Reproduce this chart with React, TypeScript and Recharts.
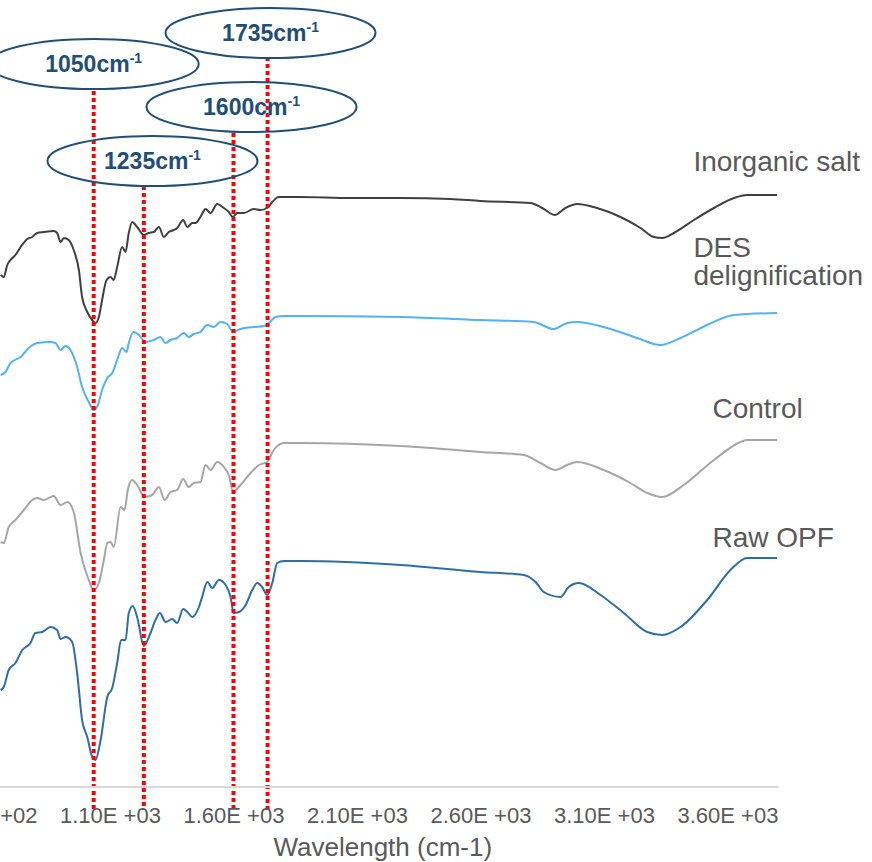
import React from 'react';
import { LineChart, Line, XAxis, YAxis, ReferenceLine, ReferenceDot } from 'recharts';

const FONT = 'Arial, "Liberation Sans", sans-serif';

// X axis ticks (wavenumber, cm-1)
const tickValues = [600, 1100, 1600, 2100, 2600, 3100, 3600];
const tickLabels = ['6.00E +02', '1.10E +03', '1.60E +03', '2.10E +03', '2.60E +03', '3.10E +03', '3.60E +03'];

// Inorganic salt
const inorganicX = [655, 668, 682, 695, 715, 736, 763, 783, 803, 830, 870, 884, 898, 911, 931, 951, 972, 985, 1006, 1026, 1039, 1053, 1066, 1084, 1100, 1113, 1127, 1147, 1161, 1174, 1188, 1208, 1235, 1255, 1275, 1296, 1316, 1336, 1356, 1370, 1394, 1411, 1431, 1444, 1464, 1485, 1505, 1532, 1559, 1579, 1595, 1613, 1640, 1680, 1707, 1734, 1755, 1781, 1869, 2072, 2274, 2477, 2598, 2800, 2848, 2898, 2942, 2989, 3070, 3165, 3246, 3300, 3334, 3381, 3462, 3543, 3624, 3678, 3799];
const inorganicY = [51.2, 51.0, 52.2, 52.7, 53.2, 54.0, 54.8, 55.0, 55.4, 55.5, 55.6, 55.4, 54.5, 54.9, 54.7, 53.7, 51.7, 49.0, 47.5, 46.7, 46.4, 47.0, 48.7, 50.7, 51.0, 50.7, 52.0, 54.0, 53.5, 55.4, 56.5, 56.0, 55.2, 55.4, 55.5, 56.0, 55.0, 55.5, 55.7, 55.9, 56.7, 56.0, 56.4, 56.4, 57.0, 57.8, 57.4, 58.3, 57.9, 57.5, 57.0, 57.4, 57.4, 57.8, 57.7, 57.9, 58.5, 59.0, 59.0, 58.9, 58.9, 58.8, 58.6, 58.4, 57.9, 57.2, 57.9, 58.3, 57.9, 57.0, 55.9, 55.0, 54.9, 55.4, 56.7, 57.9, 58.9, 59.2, 59.2];

// DES delignification
const desX = [655, 675, 695, 736, 769, 803, 857, 877, 898, 918, 938, 965, 985, 1012, 1032, 1049, 1066, 1087, 1107, 1127, 1147, 1165, 1174, 1194, 1215, 1242, 1275, 1302, 1323, 1343, 1370, 1397, 1417, 1437, 1464, 1492, 1518, 1545, 1573, 1595, 1626, 1680, 1721, 1741, 1768, 1802, 1869, 2274, 2598, 2813, 2894, 2949, 2989, 3111, 3232, 3327, 3408, 3516, 3624, 3799];
const desY = [41.2, 41.5, 42.4, 43.0, 43.9, 44.4, 44.5, 44.4, 43.7, 44.1, 43.7, 42.0, 40.0, 38.5, 37.7, 38.2, 39.7, 40.9, 41.4, 42.7, 43.9, 43.5, 44.4, 45.5, 45.2, 44.5, 44.7, 45.0, 44.4, 44.7, 44.9, 45.4, 45.0, 45.3, 45.5, 46.2, 46.0, 46.5, 46.3, 45.5, 45.8, 46.0, 46.1, 46.4, 47.0, 47.1, 47.1, 47.0, 46.7, 46.5, 45.8, 46.4, 46.5, 45.9, 44.9, 44.2, 44.9, 46.2, 47.2, 47.4];

// Control
const controlX = [655, 668, 688, 715, 749, 783, 803, 830, 870, 898, 925, 951, 979, 1012, 1032, 1053, 1073, 1087, 1100, 1113, 1141, 1157, 1170, 1188, 1208, 1238, 1269, 1296, 1319, 1343, 1370, 1394, 1417, 1437, 1464, 1485, 1505, 1532, 1559, 1579, 1597, 1626, 1667, 1701, 1734, 1761, 1802, 1869, 2274, 2598, 2773, 2841, 2902, 2949, 2989, 3097, 3205, 3273, 3334, 3421, 3543, 3651, 3678, 3799];
const controlY = [24.5, 24.4, 26.0, 26.7, 27.7, 28.7, 28.9, 28.7, 29.1, 28.2, 28.5, 27.5, 23.4, 20.7, 19.7, 20.4, 22.7, 24.4, 24.5, 24.0, 28.0, 27.7, 29.7, 30.7, 30.2, 29.0, 29.2, 30.0, 28.7, 29.5, 29.7, 30.8, 30.0, 30.4, 30.5, 32.2, 31.7, 32.5, 32.0, 31.2, 29.5, 30.2, 31.4, 32.2, 32.5, 33.7, 34.4, 34.4, 34.1, 33.5, 33.2, 32.4, 31.7, 32.2, 32.5, 31.7, 30.4, 29.4, 29.0, 30.2, 32.7, 34.5, 34.7, 34.7];

// Raw OPF
const rawX = [655, 668, 688, 715, 743, 776, 796, 824, 857, 884, 898, 918, 945, 965, 985, 1006, 1026, 1039, 1060, 1087, 1107, 1127, 1143, 1161, 1174, 1190, 1208, 1235, 1262, 1282, 1300, 1323, 1350, 1370, 1394, 1411, 1431, 1458, 1471, 1492, 1512, 1539, 1566, 1586, 1599, 1620, 1647, 1674, 1694, 1714, 1734, 1755, 1775, 1802, 1869, 2274, 2598, 2773, 2821, 2854, 2922, 2955, 2996, 3084, 3178, 3273, 3334, 3408, 3516, 3610, 3678, 3799];
const rawY = [9.7, 10.0, 11.7, 12.4, 13.7, 14.4, 15.4, 15.5, 16.0, 15.7, 14.8, 15.0, 14.5, 11.4, 6.7, 5.0, 3.0, 2.7, 4.7, 9.0, 9.9, 12.4, 14.7, 14.7, 17.4, 18.1, 17.0, 14.1, 15.4, 16.7, 17.4, 16.5, 16.8, 16.4, 17.8, 17.5, 17.0, 18.0, 19.0, 20.5, 19.9, 20.7, 20.2, 19.0, 17.4, 17.5, 18.2, 19.7, 20.4, 20.0, 19.2, 20.4, 22.4, 22.6, 22.6, 22.2, 21.5, 21.2, 20.5, 19.5, 19.0, 20.0, 20.4, 19.2, 17.4, 15.5, 15.2, 16.0, 18.7, 21.7, 22.9, 22.9];

// Peak annotations
const peakNames = ['1050', '1235', '1600', '1735'];
const peakLineX = [1032, 1235, 1598, 1736];
const peakLineTop = [69.6, 60.1, 65.4, 73.0];
const peakLineBottom = -2.3;
const bubbleX = [1032, 1270, 1671, 1748];
const bubbleY = [72.3, 62.6, 68.0, 75.4];

// Series labels
const seriesLabelLines = [['Inorganic salt'], ['DES', 'delignification'], ['Control'], ['Raw OPF']];
const seriesLabelX = [3460, 3460, 3537, 3537];
const seriesLabelY = [61.6, 53.0, 36.9, 24.0];

const zip = (xs: number[], ys: number[]) => xs.map((x, i) => ({ x, y: ys[i] }));

const series = [
  { name: 'Inorganic salt', data: zip(inorganicX, inorganicY), color: '#404040' },
  { name: 'DES delignification', data: zip(desX, desY), color: '#52b2f7' },
  { name: 'Control', data: zip(controlX, controlY), color: '#a6a6a6' },
  { name: 'Raw OPF', data: zip(rawX, rawY), color: '#2e6ea6' },
];

const BLUE = '#1f4e79';

const Bubble = (props: any) => {
  const { cx, cy, text } = props;
  if (cx == null || cy == null) return null;
  return (
    <g>
      <ellipse cx={cx} cy={cy} rx={105} ry={25} fill="none" stroke={BLUE} strokeWidth={2} />
      <text x={cx} y={cy + 8} textAnchor="middle" fill={BLUE} fontFamily={FONT} fontWeight="bold" fontSize={23}>
        <tspan>{text}cm</tspan>
        <tspan dy={-9} fontSize={14}>-1</tspan>
      </text>
    </g>
  );
};

const SeriesLabel = (props: any) => {
  const { cx, cy, lines } = props;
  if (cx == null || cy == null) return null;
  return (
    <text x={cx} y={cy} fill="#595959" fontFamily={FONT} fontSize={28}>
      {lines.map((l: string, i: number) => (
        <tspan key={i} x={cx} dy={i === 0 ? 0 : 28}>{l}</tspan>
      ))}
    </text>
  );
};

export default function App() {
  return (
    <div style={{ position: 'absolute', left: 0, top: 0, width: 872, height: 862, overflow: 'hidden', background: '#fff' }}>
      <div style={{ position: 'absolute', left: -33, top: 0 }}>
        <LineChart width={905} height={862} margin={{ top: 7, right: 93.4, bottom: 0, left: 20 }}>
          <XAxis
            type="number"
            dataKey="x"
            domain={[600, 3805]}
            ticks={tickValues}
            interval={0}
            allowDataOverflow
            tickFormatter={(v: number) => tickLabels[tickValues.indexOf(v)]}
            height={75}
            tickLine={false}
            tickSize={0}
            tickMargin={20}
            axisLine={{ stroke: '#d9d9d9', strokeWidth: 2 }}
            tick={{ fill: '#595959', fontSize: 22, fontFamily: FONT }}
            label={{ value: 'Wavelength (cm-1)', position: 'insideBottom', offset: 6, fill: '#595959', fontSize: 26, fontFamily: FONT }}
          />
          <YAxis hide type="number" domain={[0, 78]} allowDataOverflow />
          {peakNames.map((n, i) => (
            <ReferenceDot
              key={'b' + n}
              x={bubbleX[i]}
              y={bubbleY[i]}
              ifOverflow="visible"
              shape={(p: any) => <Bubble {...p} text={n} />}
            />
          ))}
          {series.map((s) => (
            <Line
              key={s.name}
              data={s.data}
              dataKey="y"
              name={s.name}
              type="monotone"
              stroke={s.color}
              strokeWidth={2}
              dot={false}
              activeDot={false}
              isAnimationActive={false}
            />
          ))}
          {peakNames.map((n, i) => (
            <ReferenceLine
              key={'l' + n}
              segment={[{ x: peakLineX[i], y: peakLineTop[i] }, { x: peakLineX[i], y: peakLineBottom }]}
              stroke="#ff0000"
              strokeWidth={4}
              strokeDasharray="4 3"
              ifOverflow="visible"
            />
          ))}
          {seriesLabelLines.map((lines, i) => (
            <ReferenceDot
              key={'s' + i}
              x={seriesLabelX[i]}
              y={seriesLabelY[i]}
              ifOverflow="visible"
              shape={(p: any) => <SeriesLabel {...p} lines={lines} />}
            />
          ))}
        </LineChart>
      </div>
    </div>
  );
}
